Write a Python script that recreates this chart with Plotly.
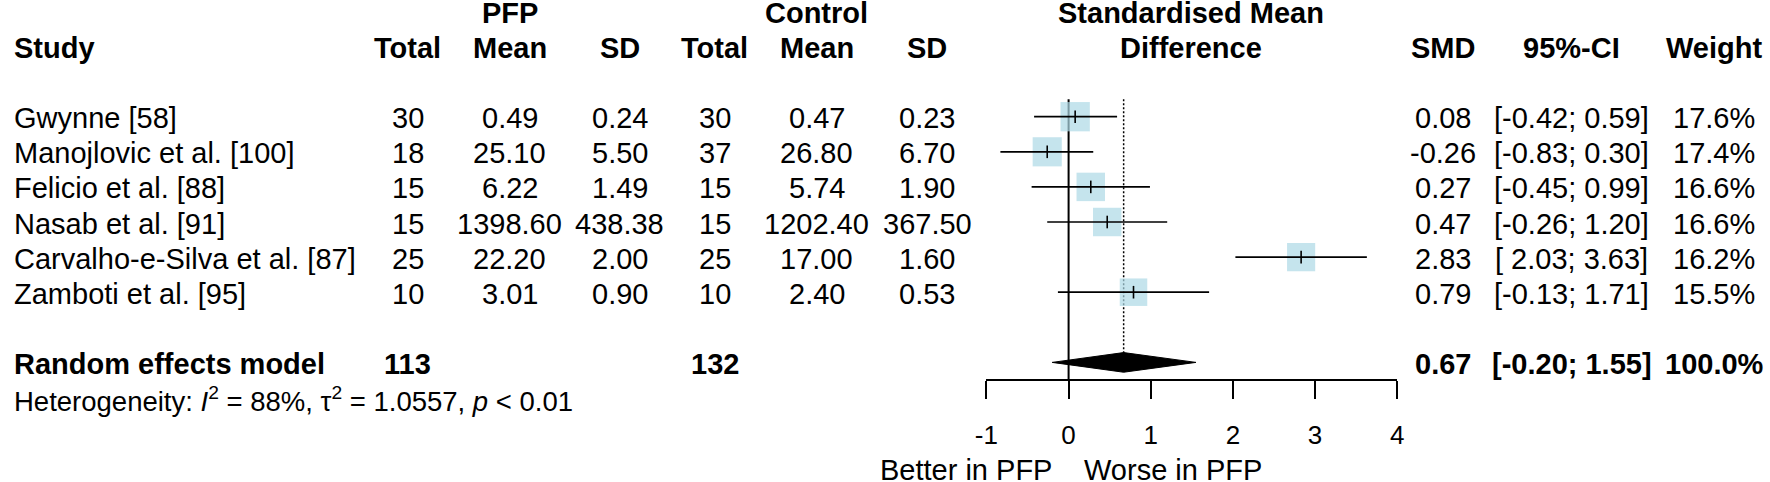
import math

import plotly.graph_objects as go

# Study-level data
studies = [
    "Gwynne [58]",
    "Manojlovic et al. [100]",
    "Felicio et al. [88]",
    "Nasab et al. [91]",
    "Carvalho-e-Silva et al. [87]",
    "Zamboti et al. [95]",
]
pfp_total = [30, 18, 15, 15, 25, 10]
pfp_mean = [0.49, 25.10, 6.22, 1398.60, 22.20, 3.01]
pfp_sd = [0.24, 5.50, 1.49, 438.38, 2.00, 0.90]
ctrl_total = [30, 37, 15, 15, 25, 10]
ctrl_mean = [0.47, 26.80, 5.74, 1202.40, 17.00, 2.40]
ctrl_sd = [0.23, 6.70, 1.90, 367.50, 1.60, 0.53]
smd = [0.08, -0.26, 0.27, 0.47, 2.83, 0.79]
ci_low = [-0.42, -0.83, -0.45, -0.26, 2.03, -0.13]
ci_high = [0.59, 0.30, 0.99, 1.20, 3.63, 1.71]
weight = [17.6, 17.4, 16.6, 16.6, 16.2, 15.5]

# Random effects summary
pooled_smd = 0.67
pooled_low = -0.20
pooled_high = 1.55
pooled_pfp_total = 113
pooled_ctrl_total = 132
pooled_weight = 100.0
i2 = 88
tau2 = 1.0557

x_ticks = [-1, 0, 1, 2, 3, 4]

# Layout constants
W, H = 1770, 482
ROW0, ROW_H = 116.7, 35.1          # pixel centre of first study row, row pitch
FONT = "Liberation Sans, Arial, Helvetica, sans-serif"
FS = 29
BOX_BLUE = "#ADD8E6"

study_rows = list(range(len(studies)))
pooled_row = 7
het_row = 8
head1, head2 = -3, -2

fig = go.Figure()

# reference line at 0
fig.add_trace(go.Scatter(
    x=[0, 0], y=[-0.5, pooled_row + 0.5], mode="lines",
    line=dict(color="black", width=2), hoverinfo="skip",
))
# dotted line at pooled estimate (diamond covers lower end)
fig.add_trace(go.Scatter(
    x=[pooled_smd, pooled_smd], y=[-0.5, pooled_row], mode="lines",
    line=dict(color="black", width=1.5, dash="2px,2px"), hoverinfo="skip",
))

# weight squares
max_w = max(weight)
sizes = [29.3 * math.sqrt(w / max_w) for w in weight]
fig.add_trace(go.Scatter(
    x=smd, y=study_rows, mode="markers",
    marker=dict(symbol="square", size=sizes, color=BOX_BLUE, line=dict(width=0)),
    hoverinfo="skip",
))

# confidence intervals
ci_x, ci_y = [], []
for lo, hi, r in zip(ci_low, ci_high, study_rows):
    ci_x += [lo, hi, None]
    ci_y += [r, r, None]
fig.add_trace(go.Scatter(
    x=ci_x, y=ci_y, mode="lines",
    line=dict(color="black", width=1.7), hoverinfo="skip",
))

# point estimate mark
fig.add_trace(go.Scatter(
    x=smd, y=study_rows, mode="markers",
    marker=dict(symbol="line-ns", size=9, line=dict(width=1.6, color="black")),
    hoverinfo="skip",
))

# summary diamond
dh = 0.28
fig.add_trace(go.Scatter(
    x=[pooled_low, pooled_smd, pooled_high, pooled_smd, pooled_low],
    y=[pooled_row, pooled_row - dh, pooled_row, pooled_row + dh, pooled_row],
    mode="lines", fill="toself", fillcolor="black",
    line=dict(color="black", width=1), hoverinfo="skip",
))

# ---- table text ----
col_px = {
    "study": 0,
    "pfp_total": 400,
    "pfp_mean": 503,
    "pfp_sd": 614.5,
    "ctrl_total": 710.5,
    "ctrl_mean": 813.5,
    "ctrl_sd": 925,
    "plot": 1192,
    "smd": 1447,
    "ci": 1576.5,
    "weight": 1720.5,
}

annotations = []


def txt(text, col, row, anchor="center", size=FS, yshift=-1.5):
    annotations.append(dict(
        text=text, x=col_px[col] / W, xref="paper", y=row, yref="y",
        xanchor=anchor, yanchor="middle", showarrow=False, yshift=yshift,
        font=dict(family=FONT, size=size, color="black"),
    ))


# headers
txt("<b>PFP</b>", "pfp_mean", head1)
txt("<b>Control</b>", "ctrl_mean", head1)
txt("<b>Standardised Mean</b>", "plot", head1)
txt("<b>Study</b>", "study", head2, anchor="left")
for col, label in [("pfp_total", "Total"), ("pfp_mean", "Mean"), ("pfp_sd", "SD"),
                   ("ctrl_total", "Total"), ("ctrl_mean", "Mean"), ("ctrl_sd", "SD"),
                   ("plot", "Difference"), ("smd", "SMD"), ("ci", "95%-CI"),
                   ("weight", "Weight")]:
    txt(f"<b>{label}</b>", col, head2)


def ci_text(lo, hi):
    lo_s = f"{lo:.2f}" if lo < 0 else "\u00a0" + f"{lo:.2f}"
    return f"[{lo_s}; {hi:.2f}]"


for i, r in enumerate(study_rows):
    txt(studies[i], "study", r, anchor="left")
    txt(str(pfp_total[i]), "pfp_total", r)
    txt(f"{pfp_mean[i]:.2f}", "pfp_mean", r)
    txt(f"{pfp_sd[i]:.2f}", "pfp_sd", r)
    txt(str(ctrl_total[i]), "ctrl_total", r)
    txt(f"{ctrl_mean[i]:.2f}", "ctrl_mean", r)
    txt(f"{ctrl_sd[i]:.2f}", "ctrl_sd", r)
    txt(f"{smd[i]:.2f}", "smd", r)
    txt(ci_text(ci_low[i], ci_high[i]), "ci", r)
    txt(f"{weight[i]:.1f}%", "weight", r)

txt("<b>Random effects model</b>", "study", pooled_row, anchor="left")
txt(f"<b>{pooled_pfp_total}</b>", "pfp_total", pooled_row)
txt(f"<b>{pooled_ctrl_total}</b>", "ctrl_total", pooled_row)
txt(f"<b>{pooled_smd:.2f}</b>", "smd", pooled_row)
txt(f"<b>{ci_text(pooled_low, pooled_high)}</b>", "ci", pooled_row)
txt(f"<b>{pooled_weight:.1f}%</b>", "weight", pooled_row)

txt(f"Heterogeneity: <i>I</i><sup>2</sup> = {i2}%, \u03c4<sup>2</sup> = {tau2:.4f}, "
    f"<i>p</i> &lt; 0.01", "study", het_row, anchor="left", size=27.5)

# favour labels under the axis
for text, anchor, shift in [("Better in PFP", "right", -15), ("Worse in PFP", "left", 13)]:
    annotations.append(dict(
        text=text, x=0, xref="x", y=1 - 470 / H, yref="paper",
        xanchor=anchor, yanchor="middle", xshift=shift, showarrow=False,
        font=dict(family=FONT, size=FS, color="black"),
    ))

fig.update_layout(
    width=W, height=H,
    margin=dict(l=0, r=0, t=0, b=0),
    paper_bgcolor="white", plot_bgcolor="white",
    showlegend=False,
    annotations=annotations,
    xaxis=dict(
        domain=[985 / W, 1400.3 / W], range=[-1, 4],
        anchor="free", position=1 - 380 / H,
        showline=True, linecolor="black", linewidth=2,
        ticks="outside", ticklen=18, tickwidth=2, tickcolor="black",
        tickvals=x_ticks, ticktext=[str(t) for t in x_ticks],
        tickfont=dict(family=FONT, size=26, color="black"),
        ticklabelstandoff=14,
        showgrid=False, zeroline=False, fixedrange=True,
    ),
    yaxis=dict(
        domain=[0, 1],
        range=[(H - ROW0) / ROW_H, -ROW0 / ROW_H],
        visible=False, fixedrange=True,
    ),
)

# page body has a default 8px margin; drop it so the figure fills the window
fig.write_html(
    "out.html",
    config={"displayModeBar": False},
    post_script="document.body.style.margin='0';",
)
